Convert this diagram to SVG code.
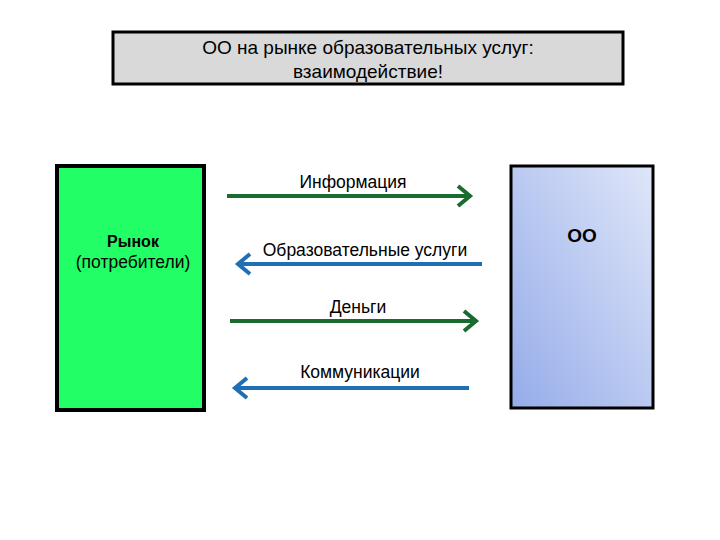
<svg xmlns="http://www.w3.org/2000/svg" width="720" height="540" viewBox="0 0 720 540">
<style>
text{font-family:"Liberation Sans",Arial,sans-serif;fill:#000}
.g{stroke:#1a6b30;stroke-width:4;fill:none}
.b{stroke:#1f6fb5;stroke-width:4;fill:none}
</style>
<defs>
<linearGradient id="bl" x1="1" y1="0" x2="0" y2="1">
<stop offset="0" stop-color="#dfe6f8"/><stop offset="1" stop-color="#95acea"/>
</linearGradient>
</defs>
<rect width="720" height="540" fill="#fff"/>
<g id="title">
<rect x="113" y="32" width="510" height="52" fill="#d9d9d9" stroke="#000" stroke-width="3"/>
<text x="368" y="54" font-size="19" text-anchor="middle">ОО на рынке образовательных услуг:</text>
<text x="368" y="78" font-size="19" text-anchor="middle">взаимодействие!</text>
</g>
<g id="market">
<rect x="57" y="166" width="147" height="244" fill="#22ff66" stroke="#000" stroke-width="4"/>
<text x="133" y="247" font-size="16" font-weight="bold" text-anchor="middle">Рынок</text>
<text x="133" y="268" font-size="17.5" text-anchor="middle">(потребители)</text>
</g>
<g id="oo">
<rect x="511" y="166" width="142" height="242" fill="url(#bl)" stroke="#000" stroke-width="3"/>
<text x="582" y="242" font-size="19" font-weight="bold" text-anchor="middle">ОО</text>
</g>
<g id="connectors">
<path class="g" d="M227 196H470M458 186L470 196L458 206"/>
<path class="b" d="M482 264H238M250 254L238 264L250 274"/>
<path class="g" d="M230 321H476M464 311L476 321L464 331"/>
<path class="b" d="M469 388H235M247 378L235 388L247 398"/>
</g>
<g id="labels" font-size="17.5">
<text x="353" y="188" text-anchor="middle">Информация</text>
<text x="365" y="256" text-anchor="middle">Образовательные услуги</text>
<text x="358" y="313" text-anchor="middle">Деньги</text>
<text x="360" y="378" text-anchor="middle">Коммуникации</text>
</g>
</svg>
